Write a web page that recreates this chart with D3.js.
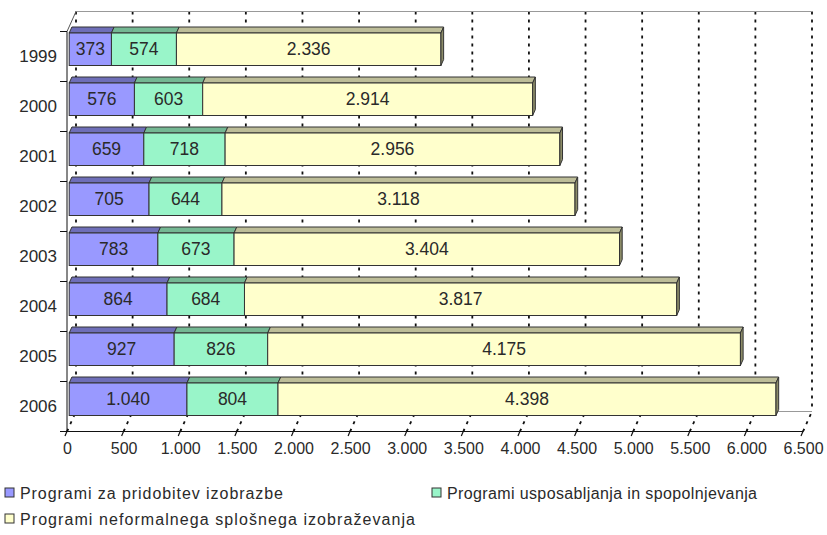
<!DOCTYPE html>
<html><head><meta charset="utf-8">
<script src="https://cdn.jsdelivr.net/npm/d3@7"></script>
<style>
body{margin:0;background:#fff;}
svg{display:block;font-family:"Liberation Sans",Arial,sans-serif;}
</style></head>
<body><svg id="c" width="827" height="535"></svg>
<script>
const years = ["1999","2000","2001","2002","2003","2004","2005","2006"];
const seriesNames = ["Programi za pridobitev izobrazbe","Programi usposabljanja in spopolnjevanja","Programi neformalnega splošnega izobraževanja"];
const pridobitev = [373,576,659,705,783,864,927,1040];
const usposabljanje = [574,603,718,644,673,684,826,804];
const neformalno = [2336,2914,2956,3118,3404,3817,4175,4398];
const xTicks = [0,500,1000,1500,2000,2500,3000,3500,4000,4500,5000,5500,6000,6500];

const frontCol = ["#9999ff","#99f5c9","#ffffcc"];
const topCol = ["#6e6eb8","#74b893","#bdbd98"];
const sideCol = "#8c8c68";

const svg = d3.select("#c");
const loc = d3.formatLocale({decimal:",",thousands:".",grouping:[3],currency:["",""]});
const fmt = loc.format(",d");

const x = d3.scaleLinear().domain([0,6500]).range([67,803]);
const y = d3.scaleBand().domain(years).range([31.5,431.5]);
const DX = 9, DY = 20;
const bdx = 2.7, bdy = 6;
const fOffX = 2.2, fOffY = -1;
const barH = 32.5;

const g = svg.append("g");
g.selectAll("line.grid").data(xTicks).join("line")
  .attr("x1", d => x(d)+DX).attr("x2", d => x(d)+DX)
  .attr("y1", 11.5).attr("y2", 431.5-DY)
  .attr("stroke","#111").attr("stroke-width",1.8).attr("stroke-dasharray","3,5");
g.selectAll("line.fgrid").data(xTicks).join("line")
  .attr("x1", d => x(d)).attr("y1", 431.5)
  .attr("x2", d => x(d)+DX).attr("y2", 431.5-DY)
  .attr("stroke","#111").attr("stroke-width",1.8).attr("stroke-dasharray","3,5");
g.append("line").attr("x1",x(0)+DX).attr("x2",x(6500)+DX).attr("y1",11.5).attr("y2",11.5).attr("stroke","#999");
g.append("line").attr("x1",x(0)+DX).attr("x2",x(6500)+DX).attr("y1",411.5).attr("y2",411.5).attr("stroke","#999");
g.append("line").attr("x1",x(0)).attr("y1",31.5).attr("x2",x(0)+DX).attr("y2",11.5).attr("stroke","#555");

const series = [pridobitev, usposabljanje, neformalno];
const bars = svg.append("g");
years.forEach((yr,i) => {
  let start = 0;
  const yt = y(yr) + fOffY + 2.5;
  const yb = yt + barH;
  series.forEach((s,k) => {
    const v = s[i];
    const x0 = x(start)+fOffX, x1 = x(start+v)+fOffX;
    bars.append("path")
      .attr("d", `M${x0},${yt}L${x0+bdx},${yt-bdy}L${x1+bdx},${yt-bdy}L${x1},${yt}Z`)
      .attr("fill", topCol[k]).attr("stroke","#333").attr("stroke-width",1);
    bars.append("rect").attr("x",x0).attr("y",yt).attr("width",x1-x0).attr("height",barH)
      .attr("fill", frontCol[k]).attr("stroke","#333").attr("stroke-width",1);
    if (k === series.length-1) {
      bars.append("path")
        .attr("d", `M${x1},${yt}L${x1+bdx},${yt-bdy}L${x1+bdx},${yb-bdy}L${x1},${yb}Z`)
        .attr("fill", sideCol).attr("stroke","#333").attr("stroke-width",1);
    }
    bars.append("text").attr("x",(x0+x1)/2).attr("y",(yt+yb)/2)
      .attr("text-anchor","middle").attr("dominant-baseline","central")
      .attr("font-size",17.5).attr("fill","#2a2a2a").text(fmt(v));
    start += v;
  });
});

const ax = svg.append("g");
ax.append("line").attr("x1",x(0)).attr("x2",x(0)).attr("y1",31.5).attr("y2",431.5).attr("stroke","#111");
ax.append("line").attr("x1",x(0)).attr("x2",x(6500)).attr("y1",431.5).attr("y2",431.5).attr("stroke","#111");
const bounds = years.map(d => y(d)).concat([431.5]);
ax.selectAll("line.ct").data(bounds).join("line")
  .attr("x1",60).attr("x2",x(0)).attr("y1",d=>d).attr("y2",d=>d).attr("stroke","#111");
ax.selectAll("line.bt").data(xTicks).join("line")
  .attr("x1",d=>x(d)-2).attr("y1",436).attr("x2",d=>x(d)+1).attr("y2",429)
  .attr("stroke","#111").attr("stroke-width",1.2);
const xa = svg.append("g").attr("transform","translate(0,436)")
  .call(d3.axisBottom(x).tickValues(xTicks).tickFormat(fmt).tickSize(0).tickPadding(7));
xa.select(".domain").remove();
xa.selectAll("text").attr("font-size",16).attr("fill","#2a2a2a").attr("font-family","Liberation Sans, Arial, sans-serif");
const ya = svg.append("g").attr("transform",`translate(${x(0)},0)`)
  .call(d3.axisLeft(y).tickSize(0).tickPadding(10));
ya.select(".domain").remove();
ya.selectAll("text").attr("font-size",17).attr("fill","#2a2a2a").attr("font-family","Liberation Sans, Arial, sans-serif");

const legPos = [[5,493],[432,493],[5,519]];
const legLen = [263,310,395];
const leg = svg.append("g");
seriesNames.forEach((n,k) => {
  const [lx,ly] = legPos[k];
  leg.append("rect").attr("x",lx).attr("y",ly-5).attr("width",9).attr("height",9)
    .attr("fill",frontCol[k]).attr("stroke","#333");
  leg.append("text").attr("x",lx+15).attr("y",ly).attr("dominant-baseline","central")
    .attr("font-size",16).attr("textLength",legLen[k]).attr("lengthAdjust","spacing")
    .attr("fill","#2a2a2a").text(n);
});
</script></body></html>
